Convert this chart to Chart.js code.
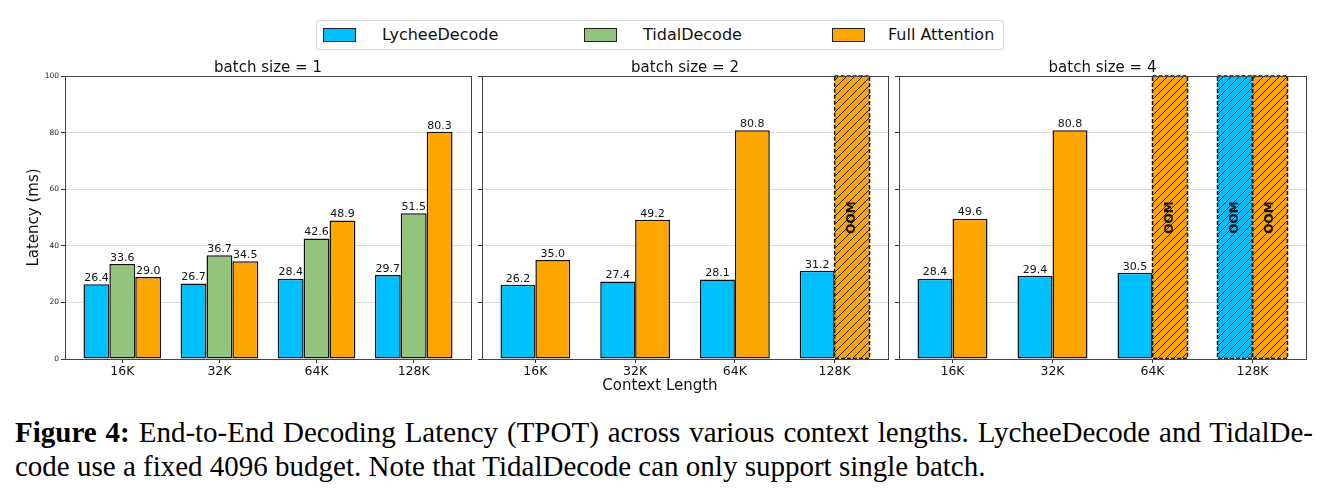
<!DOCTYPE html>
<html>
<head>
<meta charset="utf-8">
<script src="https://cdn.jsdelivr.net/npm/chart.js@4.4.1/dist/chart.umd.min.js"></script>
<style>
body { margin: 0; background: #fff; width: 1331px; height: 498px; position: relative; overflow: hidden; font-family: "DejaVu Sans", sans-serif; color: #111; }
canvas { position: absolute; }
#legend { position: absolute; left: 316px; top: 20px; width: 688px; height: 30px; border: 1px solid #d9d9d9; border-radius: 3px; box-sizing: border-box; }
#legend .patch { position: absolute; top: 7px; width: 33px; height: 14px; border: 1.5px solid #222; box-sizing: border-box; }
#legend .lab { position: absolute; top: 0; line-height: 28px; font-size: 16px; }
#xlabel { position: absolute; left: 560px; width: 200px; top: 376px; text-align: center; font-size: 15px; line-height: 18px; }
.cap { position: absolute; left: 15px; font-family: "Liberation Serif", "Times New Roman", serif; font-size: 29px; line-height: 34px; white-space: nowrap; color: #000; }
#cap1 { top: 415px; width: 1298px; text-align: justify; text-align-last: justify; }
#cap2 { top: 449px; }
</style>
</head>
<body>
<div id="legend">
  <span class="patch" style="left:6px;background:#00bfff"></span><span class="lab" style="left:65px">LycheeDecode</span>
  <span class="patch" style="left:267px;background:#93c47d"></span><span class="lab" style="left:326px">TidalDecode</span>
  <span class="patch" style="left:515px;background:#ffa500"></span><span class="lab" style="left:571px">Full Attention</span>
</div>
<canvas id="c1" width="480" height="345" style="left:0;top:55px"></canvas>
<canvas id="c2" width="416" height="345" style="left:476px;top:55px"></canvas>
<canvas id="c3" width="418" height="345" style="left:893px;top:55px"></canvas>
<div id="xlabel">Context Length</div>
<div id="cap1" class="cap"><b>Figure 4:</b> End-to-End Decoding Latency (TPOT) across various context lengths. LycheeDecode and TidalDe-</div>
<div id="cap2" class="cap">code use a fixed 4096 budget. Note that TidalDecode can only support single batch.</div>
<script>
const categories = ['16K', '32K', '64K', '128K'];
const yTicks = [0, 20, 40, 60, 80, 100];
const yMax = 100;

// null = OOM (drawn as a hatched bar up to the top of the axis)
const bs1Lychee = [26.4, 26.7, 28.4, 29.7];
const bs1Tidal  = [33.6, 36.7, 42.6, 51.5];
const bs1Full   = [29.0, 34.5, 48.9, 80.3];
const bs2Lychee = [26.2, 27.4, 28.1, 31.2];
const bs2Full   = [35.0, 49.2, 80.8, null];
const bs4Lychee = [28.4, 29.4, 30.5, null];
const bs4Full   = [49.6, 80.8, null, null];

const BLUE = '#00bfff', GREEN = '#93c47d', ORANGE = '#ffa500';
const FONT = '"DejaVu Sans", sans-serif';

function hatch(color) {
    const n = 8;
    const t = document.createElement('canvas');
    t.width = n; t.height = n;
    const g = t.getContext('2d');
    g.fillStyle = color;
    g.fillRect(0, 0, n, n);
    g.strokeStyle = '#1a1a1a';
    g.lineWidth = 1;
    g.beginPath();
    g.moveTo(-1, n + 1); g.lineTo(n + 1, -1);
    g.moveTo(-1, 1); g.lineTo(1, -1);
    g.moveTo(n - 1, n + 1); g.lineTo(n + 1, n - 1);
    g.stroke();
    return g.createPattern(t, 'repeat');
}

const panelPlugin = {
    id: 'panel',
    afterDatasetsDraw(chart) {
        const o = chart.options.plugins.panel;
        const ctx = chart.ctx;
        const ca = chart.chartArea;
        ctx.save();
        // dashed edges of OOM bars
        chart.data.datasets.forEach((ds, di) => {
            const meta = chart.getDatasetMeta(di);
            meta.data.forEach((el, i) => {
                const raw = ds.data[i];
                if (!raw.oom) return;
                const p = el.getProps(['x', 'y', 'base', 'width'], true);
                ctx.setLineDash([4, 2]);
                ctx.strokeStyle = '#111';
                ctx.lineWidth = 1.5;
                ctx.strokeRect(p.x - p.width / 2, p.y, p.width, p.base - p.y);
            });
        });
        ctx.setLineDash([]);
        // frame
        ctx.strokeStyle = '#444';
        ctx.lineWidth = 1;
        ctx.strokeRect(Math.round(ca.left) + 0.5, Math.round(ca.top) + 0.5, Math.round(ca.right - ca.left), Math.round(ca.bottom - ca.top));
        // value labels and OOM labels
        const yScale = chart.scales.y;
        chart.data.datasets.forEach((ds, di) => {
            const meta = chart.getDatasetMeta(di);
            meta.data.forEach((el, i) => {
                const raw = ds.data[i];
                const p = el.getProps(['x', 'y'], true);
                ctx.fillStyle = '#111';
                if (raw.oom) {
                    ctx.save();
                    ctx.translate(p.x, yScale.getPixelForValue(50));
                    ctx.rotate(-Math.PI / 2);
                    ctx.font = 'bold 12px ' + FONT;
                    ctx.textAlign = 'center';
                    ctx.textBaseline = 'middle';
                    ctx.fillText('OOM', 0, 0);
                    ctx.restore();
                } else {
                    ctx.font = '11px ' + FONT;
                    ctx.textAlign = 'center';
                    ctx.textBaseline = 'bottom';
                    ctx.fillText(raw.y.toFixed(1), p.x, p.y - 0.5);
                }
            });
        });
        // subplot title
        ctx.font = '15px ' + FONT;
        ctx.textAlign = 'center';
        ctx.textBaseline = 'alphabetic';
        ctx.fillStyle = '#111';
        ctx.fillText(o.title, (ca.left + ca.right) / 2, ca.top - 4);
        if (o.yLabel) {
            ctx.save();
            ctx.translate(34, (ca.top + ca.bottom) / 2);
            ctx.rotate(-Math.PI / 2);
            ctx.textBaseline = 'middle';
            ctx.fillText(o.yLabel, 0, 0);
            ctx.restore();
        }
        ctx.restore();
    }
};

function makePanel(id, title, series, cfg) {
    const datasets = series.map(s => ({
        label: s.label,
        data: s.values.map((v, i) => ({ x: i, y: v === null ? yMax : v, oom: v === null })),
        backgroundColor: c => (c.raw && c.raw.oom) ? hatch(s.color) : s.color,
        borderColor: '#111',
        borderWidth: c => (c.raw && c.raw.oom) ? 0 : 1.5,
        borderSkipped: false,
        categoryPercentage: cfg.groupWidth,
        barPercentage: 1
    }));
    return new Chart(document.getElementById(id), {
        type: 'bar',
        data: { datasets },
        options: {
            responsive: false,
            animation: false,
            layout: { padding: { left: 0, right: cfg.padRight, top: 21, bottom: 0 } },
            plugins: {
                legend: { display: false },
                tooltip: { enabled: false },
                panel: { title, yLabel: cfg.yLabel }
            },
            scales: {
                x: {
                    type: 'linear',
                    offset: false,
                    min: -cfg.margin,
                    max: categories.length - 1 + cfg.margin,
                    afterBuildTicks: s => { s.ticks = categories.map((c, i) => ({ value: i })); },
                    ticks: { callback: v => categories[v], font: { size: 12.5, family: FONT }, color: '#111', padding: 1, autoSkip: false, maxRotation: 0 },
                    grid: { offset: false, drawOnChartArea: false, tickLength: 4, tickColor: '#333' },
                    border: { display: false },
                    afterFit: s => { s.height = 41; }
                },
                y: {
                    min: 0,
                    max: yMax,
                    afterBuildTicks: s => { s.ticks = yTicks.map(v => ({ value: v })); },
                    ticks: { callback: v => cfg.yLabels ? v : '', font: { size: 7.5, family: FONT }, color: '#222', padding: 2 },
                    grid: { color: '#dddddd', tickLength: 4, tickColor: '#333' },
                    border: { display: false },
                    afterFit: s => { s.width = cfg.yWidth; }
                }
            }
        },
        plugins: [panelPlugin]
    });
}

makePanel('c1', 'batch size = 1', [
    { label: 'LycheeDecode', values: bs1Lychee, color: BLUE },
    { label: 'TidalDecode', values: bs1Tidal, color: GREEN },
    { label: 'Full Attention', values: bs1Full, color: ORANGE }
], { groupWidth: 0.8, margin: 0.59, yWidth: 65, padRight: 9, yLabels: true, yLabel: 'Latency (ms)' });

makePanel('c2', 'batch size = 2', [
    { label: 'LycheeDecode', values: bs2Lychee, color: BLUE },
    { label: 'Full Attention', values: bs2Full, color: ORANGE }
], { groupWidth: 0.7, margin: 0.535, yWidth: 6, padRight: 4, yLabels: false });

makePanel('c3', 'batch size = 4', [
    { label: 'LycheeDecode', values: bs4Lychee, color: BLUE },
    { label: 'Full Attention', values: bs4Full, color: ORANGE }
], { groupWidth: 0.7, margin: 0.535, yWidth: 6, padRight: 5, yLabels: false });
</script>
</body>
</html>
